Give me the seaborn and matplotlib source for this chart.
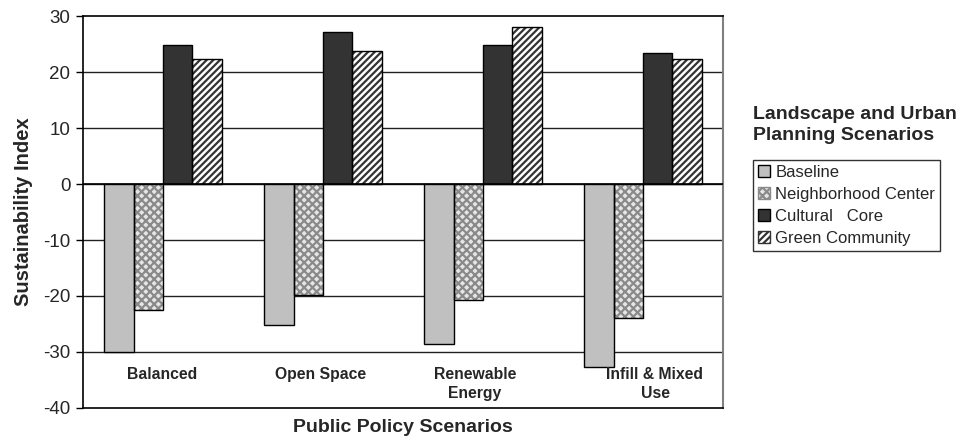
import numpy as np
import pandas as pd
import matplotlib
matplotlib.use("Agg")
import matplotlib.pyplot as plt
from matplotlib.patches import Rectangle, Patch
from matplotlib.transforms import offset_copy
import seaborn as sns

# Sustainability index per public policy scenario and planning scenario
policies = ["Balanced", "Open Space", "Renewable\nEnergy", "Infill & Mixed\nUse"]
plans = ["Baseline", "Neighborhood Center", "Cultural   Core", "Green Community"]
baseline = [-30.0, -25.2, -28.6, -32.7]
neighborhood = [-22.5, -19.8, -20.8, -23.9]
cultural = [24.8, 27.1, 24.8, 23.4]
green = [22.3, 23.7, 28.0, 22.4]

y_ticks = [30, 20, 10, 0, -10, -20, -30, -40]

series = [baseline, neighborhood, cultural, green]
df = pd.DataFrame({
    "policy": policies * len(plans),
    "plan": [p for p in plans for _ in policies],
    "value": [v for s in series for v in s],
})

# Fill, hatch and hatch colour for each planning scenario
faces = {"Baseline": "#c0c0c0", "Neighborhood Center": "#e6e6e6",
         "Cultural   Core": "#333333", "Green Community": "#ffffff"}
hatches = {"Baseline": "", "Neighborhood Center": "xxxx",
           "Cultural   Core": "", "Green Community": "/////"}
hatch_cols = {"Baseline": "black", "Neighborhood Center": "#8a8a8a",
              "Cultural   Core": "black", "Green Community": "#333333"}

sns.set_theme(style="white")
plt.rcParams["font.family"] = ["Liberation Sans", "DejaVu Sans"]
plt.rcParams["hatch.linewidth"] = 1.6

fig = plt.figure(figsize=(9.78, 4.41), dpi=100)
ax = fig.add_axes([83 / 978, 1 - 408 / 441, (723 - 83) / 978, (408 - 16) / 441])

sns.barplot(data=df, x="policy", y="value", hue="plan", order=policies,
            hue_order=plans, palette=faces, width=0.733, saturation=1,
            legend=False, ax=ax, zorder=3)

# seaborn orders patches by hue level, then category
bars = [p for p in ax.patches if isinstance(p, Rectangle)]
for i, p in enumerate(bars):
    plan = plans[i // len(policies)]
    p.set_hatch(hatches[plan])
    p.set_edgecolor(hatch_cols[plan])
    p.set_linewidth(0)
    ax.add_patch(Rectangle(p.get_xy(), p.get_width(), p.get_height(),
                           fill=False, edgecolor="black", linewidth=1.0,
                           zorder=4))

ax.set_ylim(-40, 30)
ax.set_xlim(-0.5, len(policies) - 0.5)
ax.set_yticks(y_ticks)
ax.set_yticklabels([str(t) for t in y_ticks], fontsize=13.5)
for t in y_ticks[1:-1]:
    ax.axhline(t, color="#222222", linewidth=1.0, zorder=1)
ax.axhline(0, color="black", linewidth=1.2, zorder=5)

ax.tick_params(axis="y", left=True, length=5, width=1, color="black", pad=4)
ax.tick_params(axis="x", bottom=False, labelbottom=False)
for side in ["left", "top", "bottom"]:
    ax.spines[side].set_color("black")
    ax.spines[side].set_linewidth(1.2)
ax.spines["right"].set_color("#808080")
ax.spines["right"].set_linewidth(1.5)

# Category names sit inside the plot, below the bars; wrapped names are
# nudged sideways the way the word wrap leaves them
label_shift_px = [-1, -2, -8, 12]
for i, name in enumerate(policies):
    tr = offset_copy(ax.transData, fig=fig, x=label_shift_px[i] * 0.72,
                     y=0, units="points")
    ax.text(i, -32.6, name, ha="center", va="top", fontsize=11.3,
            fontweight="bold", linespacing=1.35, zorder=6, transform=tr)

ax.set_xlabel("")
ax.set_ylabel("Sustainability Index", fontsize=14.5, fontweight="bold",
              labelpad=7)
fig.text((83 + 723) / 2 / 978, 1 - 428 / 441, "Public Policy Scenarios",
         ha="center", va="center", fontsize=14, fontweight="bold")

# Legend with its title set above the frame
fig.text(753 / 978, 1 - 125 / 441, "Landscape and Urban\nPlanning Scenarios",
         ha="left", va="center", fontsize=14, fontweight="bold",
         linespacing=1.3)
handles = [Patch(facecolor=faces[p], hatch=hatches[p], edgecolor=hatch_cols[p],
                 linewidth=1) for p in plans]
leg = fig.legend(handles, plans, loc="upper left",
                 bbox_to_anchor=(753 / 978, 1 - 160 / 441),
                 frameon=True, fancybox=False, fontsize=12,
                 handlelength=0.75, handleheight=0.75, handletextpad=0.3,
                 labelspacing=0.42, borderpad=0.3, borderaxespad=0)
leg.get_frame().set_edgecolor("black")
leg.get_frame().set_linewidth(1.0)

fig.savefig("out.png", dpi=100)
